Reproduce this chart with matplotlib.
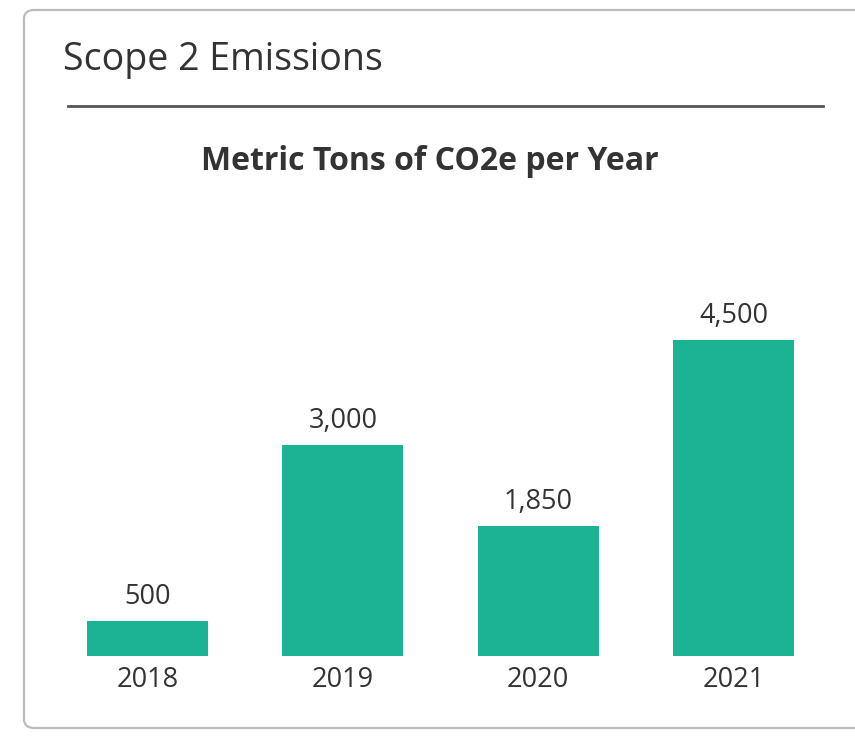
import matplotlib.pyplot as plt
from matplotlib.patches import FancyBboxPatch

# =========================
# DATA
# =========================

years = ["2018", "2019", "2020", "2021"]
emissions = [500, 3000, 1850, 4500]
value_labels = ["500", "3,000", "1,850", "4,500"]

# =========================
# FIGURE
# =========================

W, H = 855, 738
DPI = 100

plt.rcParams["font.family"] = ["Open Sans", "DejaVu Sans"]

fig = plt.figure(figsize=(W / DPI, H / DPI), dpi=DPI)
fig.patch.set_facecolor("white")


def fx(px):
    return px / W


def fy(py):
    return 1 - py / H


# card border
card = FancyBboxPatch(
    (fx(24), fy(728)), fx(870) - fx(24), fy(10) - fy(728),
    boxstyle="round,pad=0,rounding_size=0.012",
    transform=fig.transFigure,
    facecolor="none", edgecolor="#bcbcbc", linewidth=1.6,
    zorder=-1
)
fig.patches.append(card)

# header text and divider
fig.text(fx(63), fy(60), "Scope 2 Emissions", fontsize=27,
         color="#333333", ha="left", va="center")
fig.add_artist(plt.Line2D([fx(68), fx(823)], [fy(106), fy(106)],
                          transform=fig.transFigure, color="#555555",
                          linewidth=2))
fig.text(fx(430), fy(161), "Metric Tons of CO2e per Year", fontsize=23,
         fontweight="bold", color="#333333", ha="center", va="center")

# =========================
# BAR CHART
# =========================

ax_left, ax_right = 50, 831
ax_top, ax_bottom = 300, 656
ax = fig.add_axes([fx(ax_left), fy(ax_bottom),
                   fx(ax_right) - fx(ax_left), fy(ax_top) - fy(ax_bottom)])

x = range(len(years))
bars = ax.bar(x, emissions, width=0.62, color="#1bb394")

ax.set_xlim(-0.5, len(years) - 0.5)
ax.set_ylim(0, 4500 * (ax_bottom - ax_top) / (ax_bottom - 340))

for bar, label in zip(bars, value_labels):
    ax.annotate(label,
                (bar.get_x() + bar.get_width() / 2, bar.get_height()),
                xytext=(0, 17.5), textcoords="offset points",
                ha="center", va="center", fontsize=19.5, color="#333333")

ax.set_xticks(list(x))
ax.set_xticklabels(years, fontsize=19.5, color="#333333")
ax.tick_params(axis="x", length=0, pad=7)
ax.set_yticks([])
for s in ax.spines.values():
    s.set_visible(False)
ax.patch.set_alpha(0)

plt.savefig("out.png", dpi=DPI)
